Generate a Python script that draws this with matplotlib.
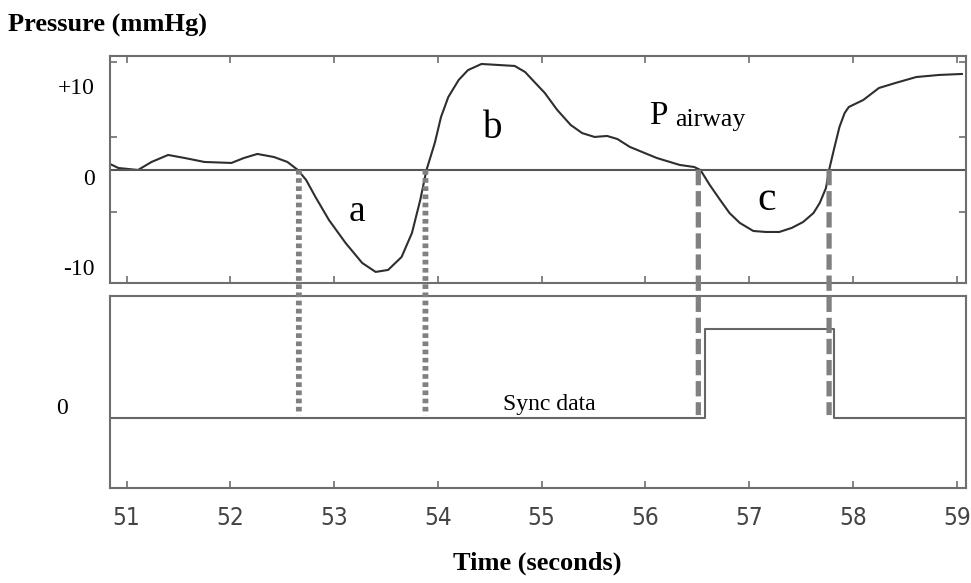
import matplotlib
matplotlib.use("Agg")
import matplotlib.pyplot as plt
from matplotlib.patches import ConnectionPatch
from matplotlib.transforms import blended_transform_factory

# airway pressure trace (seconds, mmHg)
time_s = [50.84, 50.92, 51.11, 51.24, 51.40, 51.56, 51.75, 52.01, 52.13, 52.26,
          52.42, 52.55, 52.65, 52.73, 52.82, 52.95, 53.11, 53.27, 53.40, 53.52,
          53.65, 53.75, 53.83, 53.89, 53.97, 54.03, 54.10, 54.20, 54.29, 54.42,
          54.58, 54.74, 54.84, 54.93, 55.03, 55.15, 55.28, 55.39, 55.51, 55.63,
          55.73, 55.85, 56.11, 56.33, 56.47, 56.53, 56.62, 56.72, 56.81, 56.91,
          57.04, 57.16, 57.29, 57.41, 57.52, 57.62, 57.68, 57.74, 57.77, 57.82,
          57.87, 57.92, 57.96, 58.10, 58.25, 58.41, 58.61, 58.83, 59.05]
pressure = [0.67, 0.22, 0.0, 0.89, 1.67, 1.33, 0.89, 0.78, 1.33, 1.78,
            1.44, 0.89, 0.0, -1.11, -3.0, -5.56, -8.11, -10.33, -11.33, -11.11,
            -9.67, -7.0, -3.33, 0.0, 3.0, 5.89, 8.1, 10.0, 11.1, 11.78,
            11.67, 11.56, 10.89, 9.78, 8.56, 6.67, 5.0, 4.1, 3.67, 3.78,
            3.44, 2.56, 1.33, 0.56, 0.33, 0.0, -1.67, -3.33, -4.78, -5.89,
            -6.78, -6.89, -6.89, -6.44, -5.78, -4.78, -3.67, -2.0, 0.0, 2.44,
            4.78, 6.33, 7.0, 7.78, 9.11, 9.67, 10.33, 10.56, 10.67]

# sync signal steps
sync_t = [50.84, 56.57, 56.57, 57.82, 57.82, 59.09]
sync_v = [0, 0, 1, 1, 0, 0]

dotted_marks = [52.66, 53.88]
dashed_marks = [56.51, 57.77]
xticks = [51, 52, 53, 54, 55, 56, 57, 58, 59]

serif = "Liberation Serif"
grey = "#6e6e6e"

fig = plt.figure(figsize=(9.71, 5.83), dpi=100)
ax1 = fig.add_axes([0.1133, 0.5146, 0.8816, 0.3894])
ax2 = fig.add_axes([0.1133, 0.163, 0.8816, 0.3293])

for ax in (ax1, ax2):
    ax.set_xlim(50.84, 59.09)
    for s in ax.spines.values():
        s.set_color(grey)
        s.set_linewidth(1.5)
    ax.set_xticks(xticks)

# top panel
ax1.plot(time_s, pressure, color="#2e2e2e", lw=1.5, solid_joinstyle="round")
ax1.axhline(0, color="#555555", lw=1.5)
ax1.set_ylim(-12.56, 12.67)
ax1.set_yticks([12, 3.67, -4.67])
ax1.set_yticklabels([])
ax1.set_xticklabels([])
ax1.tick_params(direction="in", length=5, width=1.2, color=grey,
                top=True, right=True)
tr = blended_transform_factory(ax1.transAxes, ax1.transData)
for lab, yv in [("+10", 9.0), ("0", -1.1), ("-10", -11.1)]:
    ax1.text(-0.0175, yv, lab, transform=tr, ha="right", va="center",
             family=serif, fontsize=17)

ax1.text(53.22, -4.6, "a", family=serif, fontsize=27, ha="center", va="center")
ax1.text(54.53, 4.6, "b", family=serif, fontsize=28, ha="center", va="center")
ax1.text(57.17, -3.3, "c", family=serif, fontsize=30, ha="center", va="center")
ax1.text(56.04, 6.0, "P", family=serif, fontsize=24, ha="left", va="center")
ax1.text(56.29, 5.6, "airway", family=serif, fontsize=18.5, ha="left", va="center")

# bottom panel
ax2.plot(sync_t, sync_v, color="#666666", lw=1.5)
ax2.set_ylim(-0.79, 1.37)
ax2.set_yticks([])
ax2.tick_params(axis="x", direction="in", length=5, width=1.2, color=grey,
                pad=13)
ax2.set_xticklabels([str(v) for v in xticks], family="DejaVu Sans",
                    fontstretch="condensed", fontsize=17.5, color="#444444")
tr2 = blended_transform_factory(ax2.transAxes, ax2.transData)
ax2.text(-0.049, 0.1, "0", transform=tr2, ha="right", va="center",
         family=serif, fontsize=17)
ax2.text(55.07, 0.15, "Sync data", family=serif, fontsize=17,
         ha="center", va="center")

# vertical markers across both panels
for xv in dotted_marks:
    con = ConnectionPatch(xyA=(xv, 0), coordsA=ax1.transData,
                          xyB=(xv, 0.03), coordsB=ax2.transData,
                          color="#808080", lw=4.2, linestyle=(0, (0.8, 0.6)),
                          capstyle="butt")
    fig.add_artist(con)
for xv in dashed_marks:
    con = ConnectionPatch(xyA=(xv, 0), coordsA=ax1.transData,
                          xyB=(xv, 0.03), coordsB=ax2.transData,
                          color="#808080", lw=3.8, linestyle=(0, (2.9, 1.1)),
                          capstyle="butt")
    fig.add_artist(con)

fig.text(0.008, 0.957, "Pressure (mmHg)", family=serif, fontsize=19,
         fontweight="bold", ha="left", va="center")
fig.text(0.553, 0.034, "Time (seconds)", family=serif, fontsize=19,
         fontweight="bold", ha="center", va="center")

fig.savefig("out.png", dpi=100)
